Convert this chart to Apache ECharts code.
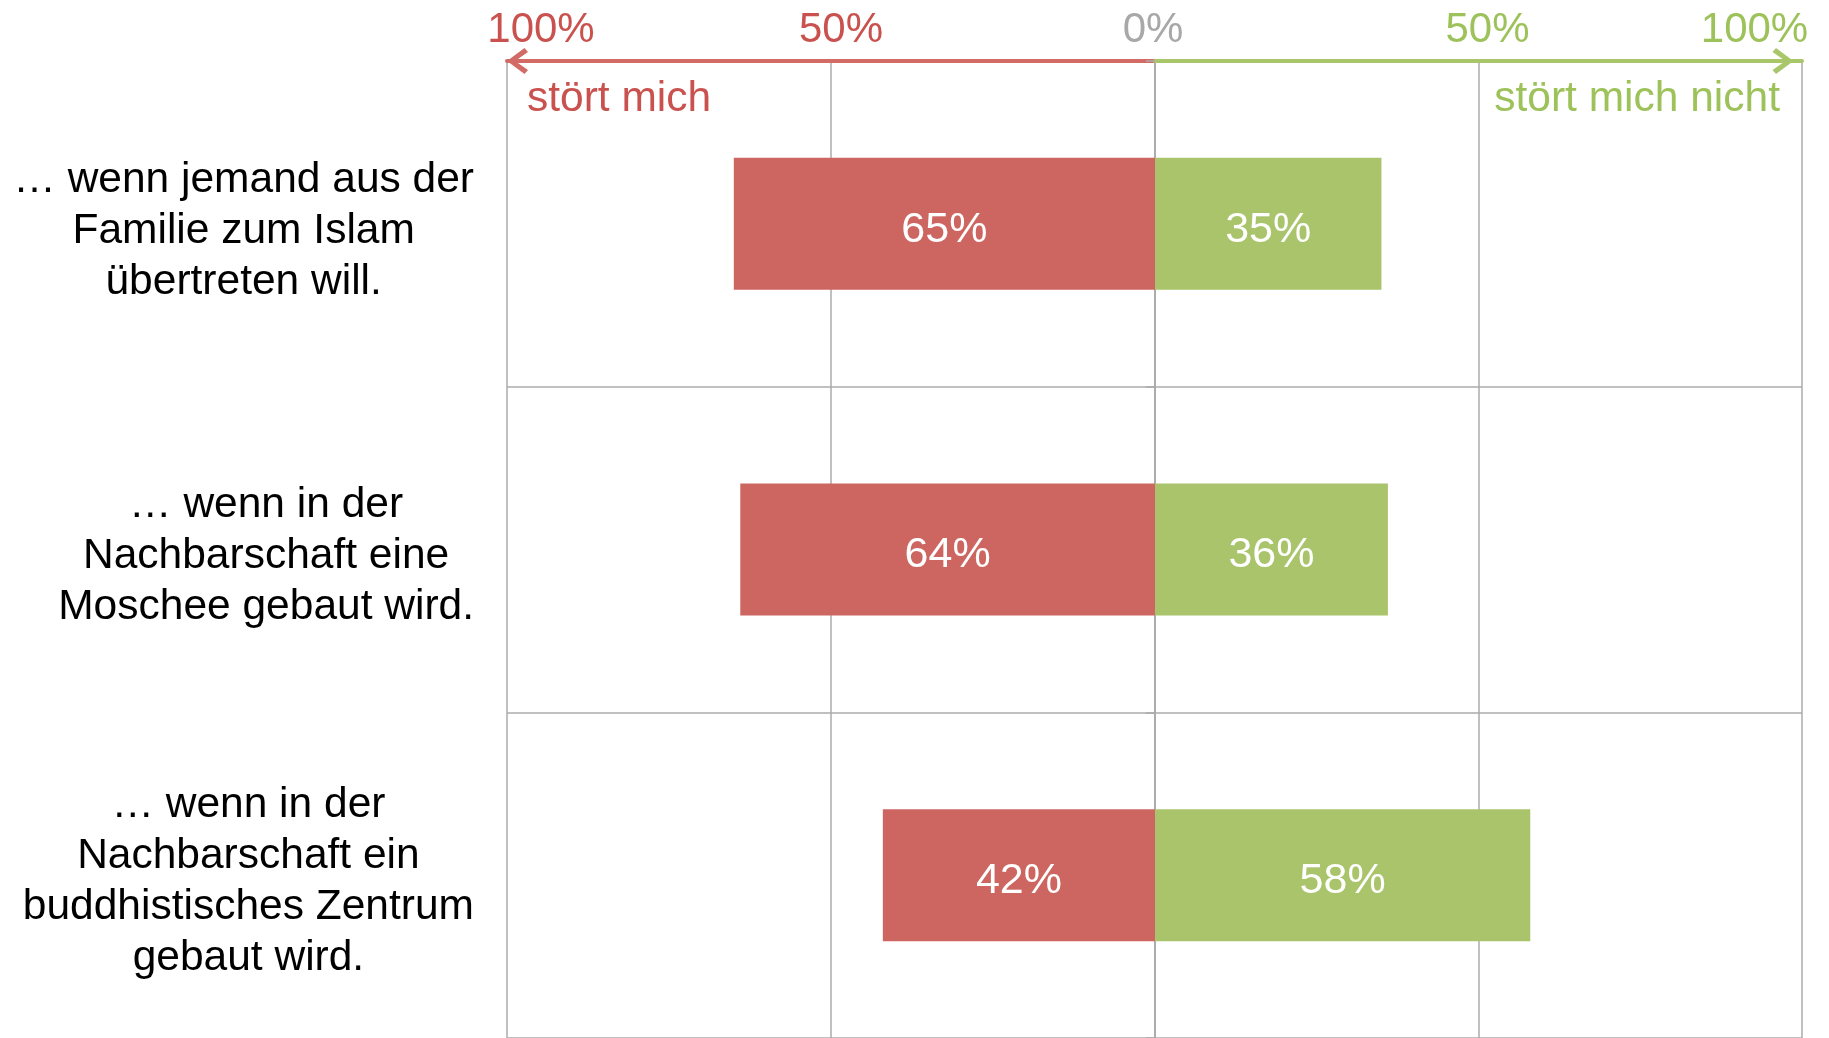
<!DOCTYPE html>
<html>
<head>
<meta charset="utf-8">
<script src="https://cdn.jsdelivr.net/npm/echarts@6/dist/echarts.min.js"></script>
<style>
html,body{margin:0;padding:0;background:#fff;}
#main{width:1829px;height:1038px;}
</style>
</head>
<body>
<div id="main"></div>
<script>
// ---- data ----
const categories = [
  '… wenn jemand aus der\nFamilie zum Islam\nübertreten will.',
  '… wenn in der\nNachbarschaft eine\nMoschee gebaut wird.',
  '… wenn in der\nNachbarschaft ein\nbuddhistisches Zentrum\ngebaut wird.'
];
const stoertMich = [65, 64, 42];
const stoertMichNicht = [35, 36, 58];
const leftTicks = [-100, -50, 0];
const rightTicks = [0, 50, 100];
const labelLeft = 'stört mich';
const labelRight = 'stört mich nicht';

// ---- styles ----
const FONT = '"Liberation Sans", Arial, Helvetica, sans-serif';
const RED = '#CD6660', GREEN = '#AAC46C';
const RED_TXT = '#C9524F', GREEN_TXT = '#9DC25A', GRAY_TXT = '#A8A8A8';
const RED_LINE = '#D26B66', GREEN_LINE = '#A9C66B';
const GRID_GRAY = '#ABABAB';
const chevron = 'path://M13 0 L26 17.5 L22 21 L13 8 L4 21 L0 17.5 Z';

const chart = echarts.init(document.getElementById('main'), null, {renderer: 'canvas'});

const pct = v => Math.abs(v) + '%';

const option = {
  backgroundColor: '#fff',
  animation: false,
  textStyle: {fontFamily: FONT},
  title: [
    {text: labelLeft, left: 522, top: 73,
     textStyle: {fontFamily: FONT, fontSize: 42.5, fontWeight: 'normal', color: RED_TXT}},
    {text: labelRight, right: 44, top: 73,
     textStyle: {fontFamily: FONT, fontSize: 42.5, fontWeight: 'normal', color: GREEN_TXT}}
  ],
  grid: [
    {left: 507, width: 648, top: 61, height: 980},
    {left: 1155, width: 647, top: 61, height: 980}
  ],
  xAxis: [
    {
      gridIndex: 0, type: 'value', position: 'top',
      min: leftTicks[0], max: leftTicks[leftTicks.length - 1], interval: 50,
      axisLine: {show: true, onZero: false, lineStyle: {color: RED_LINE, width: 4},
                 symbol: [chevron, 'none'], symbolSize: [26, 21], symbolOffset: [10.5, 0]},
      axisTick: {show: false},
      splitLine: {show: true, lineStyle: {color: GRID_GRAY, width: 1.5}},
      axisLabel: {
        margin: 10,
        fontFamily: FONT, fontSize: 42,
        formatter: function (v) {
          if (v === -100) return '{a|' + pct(v) + '}';
          if (v === -50) return '{b|' + pct(v) + '}';
          return '{c|' + pct(v) + '}';
        },
        rich: {
          a: {fontFamily: FONT, fontSize: 42, color: RED_TXT, padding: [0, 0, 0, 68]},
          b: {fontFamily: FONT, fontSize: 42, color: RED_TXT, padding: [0, 0, 0, 20]},
          c: {fontFamily: FONT, fontSize: 42, color: GRAY_TXT, padding: [0, 4, 0, 0]}
        }
      }
    },
    {
      gridIndex: 1, type: 'value', position: 'top',
      min: rightTicks[0], max: rightTicks[rightTicks.length - 1], interval: 50,
      axisLine: {show: true, onZero: false, lineStyle: {color: GREEN_LINE, width: 4},
                 symbol: ['none', chevron], symbolSize: [26, 21], symbolOffset: [0, -19]},
      axisTick: {show: false},
      splitLine: {show: true, lineStyle: {color: GRID_GRAY, width: 1.5}},
      axisLabel: {
        showMinLabel: false,
        margin: 10,
        fontFamily: FONT, fontSize: 42,
        formatter: function (v) {
          if (v === 100) return '{d|' + pct(v) + '}';
          return '{b|' + pct(v) + '}';
        },
        rich: {
          b: {fontFamily: FONT, fontSize: 42, color: GREEN_TXT, padding: [0, 0, 0, 18]},
          d: {fontFamily: FONT, fontSize: 42, color: GREEN_TXT, padding: [0, 95, 0, 0]}
        }
      }
    }
  ],
  yAxis: [
    {
      gridIndex: 0, type: 'category', inverse: true, data: categories,
      axisLine: {show: true, lineStyle: {color: GRID_GRAY, width: 1.5}},
      axisTick: {show: true, length: 9, lineStyle: {color: GRID_GRAY, width: 1.5}},
      splitLine: {show: true, showMinLine: false, lineStyle: {color: GRID_GRAY, width: 1.5}},
      axisLabel: {
        margin: 33,
        align: 'right',
        padding: [14, 0, 0, 0],
        formatter: function (v) { return '{t|' + v + '}'; },
        rich: {
          t: {fontFamily: FONT, fontSize: 42.5, lineHeight: 51, color: '#000', align: 'center'}
        }
      }
    },
    {
      gridIndex: 1, type: 'category', inverse: true, data: categories,
      axisLine: {show: false},
      axisTick: {show: false},
      axisLabel: {show: false},
      splitLine: {show: true, showMinLine: false, lineStyle: {color: GRID_GRAY, width: 1.5}}
    }
  ],
  series: [
    {
      name: labelLeft, type: 'bar', xAxisIndex: 0, yAxisIndex: 0,
      data: stoertMich.map(v => -v),
      barWidth: 132,
      itemStyle: {color: RED},
      label: {show: true, position: 'inside', color: '#fff', fontFamily: FONT, fontSize: 43,
              offset: [0, 6], formatter: p => pct(p.value)}
    },
    {
      name: labelRight, type: 'bar', xAxisIndex: 1, yAxisIndex: 1,
      data: stoertMichNicht,
      barWidth: 132,
      itemStyle: {color: GREEN},
      label: {show: true, position: 'inside', color: '#fff', fontFamily: FONT, fontSize: 43,
              offset: [0, 6], formatter: p => pct(p.value)}
    }
  ]
};
chart.setOption(option);
</script>
</body>
</html>
